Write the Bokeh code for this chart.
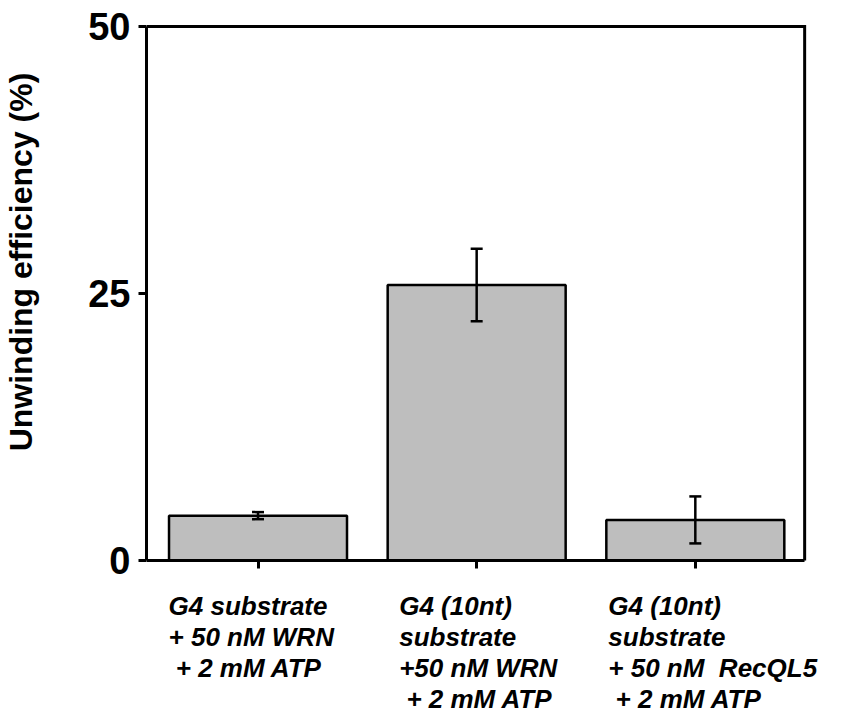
from bokeh.plotting import figure
from bokeh.models import (ColumnDataSource, Whisker, TeeHead, FixedTicker,
                          Range1d, LinearAxis)
from bokeh.core.properties import value
from bokeh.embed import file_html
from bokeh.resources import INLINE

# ---- data ----
NB = "\u00a0"
category_lines = [
    ["G4 substrate", "+ 50 nM WRN", NB + "+ 2 mM ATP"],
    ["G4 (10nt)", "substrate", "+50 nM WRN", NB + "+ 2 mM ATP"],
    ["G4 (10nt)", "substrate", "+ 50 nM" + NB + NB + "RecQL5", NB + "+ 2 mM ATP"],
]
positions = [1, 2, 3]
values = [4.2, 25.8, 3.8]
errors = [0.33, 3.4, 2.2]
y_ticks = [0, 25, 50]
y_label = "Unwinding efficiency (%)"

# ---- layout (pixels) ----
W, H = 857, 712
LEFT = 144            # frame left edge / y axis
AXIS_RIGHT = 804      # right border of plot box
AXIS_TOP = 26         # y = 50
AXIS_BOTTOM = 560     # y = 0
FRAME_TOP = 20
X_MIN, X_MAX = 0.49, 3.5
Y_MIN, Y_MAX = 0, 50
px_x = (AXIS_RIGHT - LEFT) / (X_MAX - X_MIN)
px_y = (AXIS_BOTTOM - AXIS_TOP) / (Y_MAX - Y_MIN)
FONT = "Liberation Sans"

x_range = Range1d(X_MIN, X_MAX + (W - AXIS_RIGHT) / px_x)
y_range = Range1d(Y_MIN - (H - AXIS_BOTTOM) / px_y, Y_MAX + (AXIS_TOP - FRAME_TOP) / px_y)

p = figure(width=W, height=H, output_backend="svg", toolbar_location=None,
           x_range=x_range, y_range=y_range, x_axis_location="above",
           min_border_left=LEFT, min_border_right=0,
           min_border_top=FRAME_TOP, min_border_bottom=0)
p.title.visible = False
p.grid.visible = False
p.outline_line_color = None

src = ColumnDataSource(dict(
    x=positions, top=values,
    upper=[v + e for v, e in zip(values, errors)],
    lower=[v - e for v, e in zip(values, errors)],
))

p.vbar(x="x", top="top", bottom=0, width=0.814, source=src,
       fill_color="#bebebe", line_color="black", line_width=2.5)

p.add_layout(Whisker(source=src, base="x", upper="upper", lower="lower",
                     level="overlay", line_color="black", line_width=2.5,
                     upper_head=TeeHead(size=12, line_width=2.5, line_color="black"),
                     lower_head=TeeHead(size=12, line_width=2.5, line_color="black")))

# top and right sides of the plot box
p.line(x=[X_MIN, X_MAX, X_MAX], y=[Y_MAX, Y_MAX, Y_MIN],
       line_color="black", line_width=3, line_join="miter")

# y axis (ticks 0/25/50)
ya = p.yaxis[0]
ya.bounds = (Y_MIN, Y_MAX)
ya.ticker = FixedTicker(ticks=y_ticks)
ya.minor_tick_line_color = None
ya.major_tick_in = 0
ya.major_tick_out = 8
ya.major_tick_line_width = 3
ya.axis_line_width = 3
ya.major_label_standoff = 8
ya.major_label_text_font = FONT
ya.major_label_text_font_style = "bold"
ya.major_label_text_font_size = "38px"
ya.major_label_text_color = "black"

# y-axis title, drawn as the single tick label of an outer axis
label_y = round((AXIS_BOTTOM - 261.5) / px_y, 3)
ya2 = LinearAxis(ticker=FixedTicker(ticks=[label_y]),
                 major_label_overrides={label_y: y_label},
                 major_label_orientation="vertical",
                 axis_line_color=None, major_tick_line_color=None,
                 minor_tick_line_color=None, major_label_standoff=40,
                 major_label_text_font=FONT, major_label_text_font_style="bold",
                 major_label_text_font_size="32px", major_label_text_color="black")
p.add_layout(ya2, "left")

# x axis drawn at y = 0 with tick marks pointing down at bar centres
xa = p.xaxis[0]
xa.fixed_location = Y_MIN
xa.bounds = (X_MIN, X_MAX)
xa.ticker = FixedTicker(ticks=positions)
xa.minor_tick_line_color = None
xa.major_tick_in = 8
xa.major_tick_out = 0
xa.major_tick_line_width = 3
xa.axis_line_width = 3
xa.major_label_standoff = 0
xa.major_label_text_font_size = "0px"
xa.major_label_overrides = {k: "" for k in positions}

# category labels below the axis
label_dx = [-89.5, -77.5, -87]
first_drop, line_step = 45, 31
lx, ly, ldx, ltext = [], [], [], []
for pos, lines, dx in zip(positions, category_lines, label_dx):
    for i, line in enumerate(lines):
        lx.append(pos)
        ldx.append(dx)
        ly.append(-(first_drop + i * line_step) / px_y)
        ltext.append(line)
p.text(x="x", y="y", text="text", x_offset="dx",
       source=ColumnDataSource(dict(x=lx, y=ly, dx=ldx, text=ltext)),
       text_font=value(FONT), text_font_style="bold italic",
       text_font_size="26px", text_color="black",
       text_align="left", text_baseline="alphabetic")

open("out.html", "w").write(file_html(p, INLINE))
